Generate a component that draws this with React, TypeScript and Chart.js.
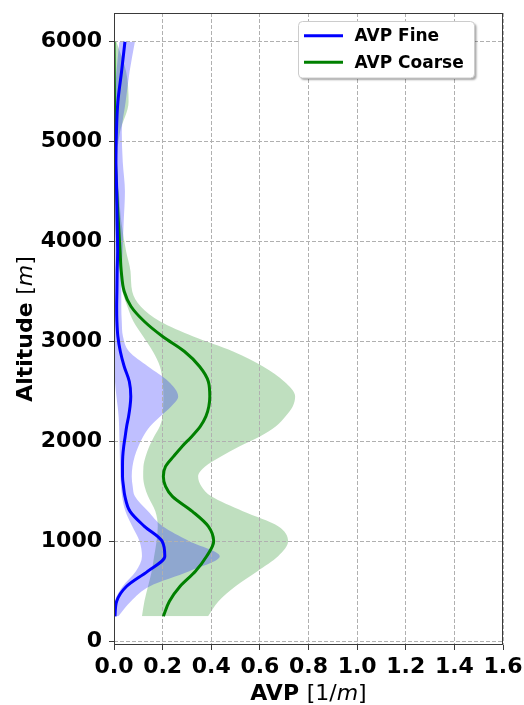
import React, { useEffect, useRef } from 'react';
import { Chart, registerables } from 'chart.js';

Chart.register(...registerables);

// Altitude levels [m]
const altitudes = [250, 400, 550, 700, 850, 1000, 1150, 1300, 1450, 1550, 1650, 1750, 1850, 1950, 2050, 2150, 2250, 2350, 2450, 2600, 2750, 2900, 3050, 3200, 3350, 3500, 3700, 3900, 4200, 4500, 4800, 5100, 5400, 5700, 6000];

// AVP Fine [1/m]
const fineMean = [0.004, 0.011, 0.052, 0.138, 0.209, 0.198, 0.125, 0.066, 0.045, 0.039, 0.035, 0.035, 0.036, 0.04, 0.046, 0.052, 0.06, 0.066, 0.069, 0.063, 0.042, 0.026, 0.016, 0.012, 0.011, 0.012, 0.013, 0.015, 0.013, 0.011, 0.008, 0.01, 0.016, 0.031, 0.045];
const fineLow = [0.0, 0.004, 0.036, 0.09, 0.115, 0.105, 0.075, 0.047, 0.033, 0.029, 0.026, 0.025, 0.024, 0.023, 0.022, 0.021, 0.019, 0.015, 0.01, 0.004, 0.0, 0.0, 0.0, 0.0, 0.0, 0.0, 0.0, 0.0, 0.0, 0.0, 0.0, 0.0, 0.002, 0.01, 0.022];
const fineHigh = [0.018, 0.07, 0.148, 0.31, 0.435, 0.31, 0.2, 0.14, 0.086, 0.077, 0.073, 0.076, 0.085, 0.1, 0.12, 0.148, 0.19, 0.235, 0.264, 0.224, 0.14, 0.062, 0.037, 0.032, 0.03, 0.03, 0.032, 0.035, 0.04, 0.045, 0.036, 0.032, 0.048, 0.064, 0.086];

// AVP Coarse [1/m]
const coarseMean = [0.203, 0.228, 0.272, 0.335, 0.381, 0.41, 0.388, 0.322, 0.24, 0.212, 0.203, 0.212, 0.245, 0.28, 0.32, 0.355, 0.378, 0.39, 0.394, 0.388, 0.352, 0.29, 0.2, 0.125, 0.07, 0.042, 0.03, 0.025, 0.018, 0.011, 0.006, 0.004, 0.002, 0.001, 0.0];
const coarseLow = [0.115, 0.125, 0.14, 0.155, 0.165, 0.175, 0.18, 0.17, 0.14, 0.126, 0.12, 0.121, 0.13, 0.145, 0.165, 0.188, 0.2, 0.202, 0.203, 0.2, 0.189, 0.16, 0.12, 0.08, 0.055, 0.035, 0.025, 0.012, 0.005, 0.0, 0.0, 0.0, 0.0, 0.0, 0.0];
const coarseHigh = [0.387, 0.43, 0.5, 0.59, 0.675, 0.716, 0.675, 0.53, 0.4, 0.36, 0.346, 0.375, 0.44, 0.515, 0.6, 0.665, 0.705, 0.735, 0.745, 0.7, 0.613, 0.49, 0.326, 0.19, 0.11, 0.075, 0.068, 0.05, 0.03, 0.02, 0.012, 0.025, 0.06, 0.05, 0.01];

const xTicks = [0, 0.2, 0.4, 0.6, 0.8, 1.0, 1.2, 1.4, 1.6];
const yTicks = [0, 1000, 2000, 3000, 4000, 5000, 6000];
const seriesLabels = ['AVP Fine', 'AVP Coarse'];
const seriesColors = ['#0000ff', '#008000'];
const bandColors = ['rgba(0,0,255,0.25)', 'rgba(0,128,0,0.25)'];

const FONT = '"DejaVu Sans", Verdana, sans-serif';

const linePoints = (vals: number[]) => altitudes.map((a, i) => ({ x: vals[i], y: a }));

type Part = { t: string; f: string };
const xTitle: Part[] = [
  { t: 'AVP ', f: `bold 22px ${FONT}` },
  { t: '[1/', f: `22px ${FONT}` },
  { t: 'm', f: `italic 22px ${FONT}` },
  { t: ']', f: `22px ${FONT}` },
];
const yTitle: Part[] = [
  { t: 'Altitude ', f: `bold 22px ${FONT}` },
  { t: '[', f: `22px ${FONT}` },
  { t: 'm', f: `italic 22px ${FONT}` },
  { t: ']', f: `22px ${FONT}` },
];

function drawParts(ctx: CanvasRenderingContext2D, parts: Part[], cx: number, baseline: number) {
  let total = 0;
  const widths = parts.map((p) => {
    ctx.font = p.f;
    const w = ctx.measureText(p.t).width;
    total += w;
    return w;
  });
  let x = cx - total / 2;
  ctx.textBaseline = 'alphabetic';
  ctx.textAlign = 'left';
  parts.forEach((p, i) => {
    ctx.font = p.f;
    ctx.fillText(p.t, x, baseline);
    x += widths[i];
  });
}

// compute the spline control points along the vertical (altitude) axis before any fill is drawn
const controlPointsPlugin = {
  id: 'verticalControlPoints',
  afterUpdate(chart: any) {
    chart.getSortedVisibleDatasetMetas().forEach((meta: any) => {
      if (meta.dataset && meta.dataset.updateControlPoints) {
        meta.dataset.updateControlPoints(chart.chartArea, 'y');
      }
    });
  },
};

const decorPlugin = {
  id: 'decor',
  afterDatasetsDraw(chart: any) {
    const { ctx, chartArea: a } = chart;
    ctx.save();
    ctx.strokeStyle = '#3a3a3a';
    ctx.lineWidth = 1;
    const l = Math.round(a.left) + 0.5;
    const r = Math.round(a.right) - 0.5;
    const t = Math.round(a.top) + 0.5;
    const b = Math.round(a.bottom) - 0.5;
    ctx.strokeRect(l, t, r - l, b - t);
    ctx.restore();
  },
  afterDraw(chart: any) {
    const { ctx, chartArea: a } = chart;
    ctx.save();
    ctx.fillStyle = '#000';
    drawParts(ctx, xTitle, (a.left + a.right) / 2, 700);
    ctx.translate(31.5, (a.top + a.bottom) / 2);
    ctx.rotate(-Math.PI / 2);
    drawParts(ctx, yTitle, 0, 0);
    ctx.restore();

    // Legend
    ctx.save();
    const bx = 298.5, by = 21.5, bw = 176, bh = 56.5, rad = 4;
    ctx.beginPath();
    ctx.moveTo(bx + rad, by);
    ctx.lineTo(bx + bw - rad, by);
    ctx.quadraticCurveTo(bx + bw, by, bx + bw, by + rad);
    ctx.lineTo(bx + bw, by + bh - rad);
    ctx.quadraticCurveTo(bx + bw, by + bh, bx + bw - rad, by + bh);
    ctx.lineTo(bx + rad, by + bh);
    ctx.quadraticCurveTo(bx, by + bh, bx, by + bh - rad);
    ctx.lineTo(bx, by + rad);
    ctx.quadraticCurveTo(bx, by, bx + rad, by);
    ctx.closePath();
    ctx.shadowColor = 'rgba(0,0,0,0.35)';
    ctx.shadowOffsetX = 2;
    ctx.shadowOffsetY = 2;
    ctx.shadowBlur = 2;
    ctx.fillStyle = '#ffffff';
    ctx.fill();
    ctx.shadowColor = 'transparent';
    ctx.strokeStyle = '#cccccc';
    ctx.lineWidth = 1;
    ctx.stroke();
    const rows = [35.7, 62.3];
    seriesLabels.forEach((lab, i) => {
      ctx.strokeStyle = seriesColors[i];
      ctx.lineWidth = 3;
      ctx.beginPath();
      ctx.moveTo(304, rows[i]);
      ctx.lineTo(343, rows[i]);
      ctx.stroke();
      ctx.fillStyle = '#000';
      ctx.font = `bold 17px ${FONT}`;
      ctx.textBaseline = 'middle';
      ctx.textAlign = 'left';
      ctx.fillText(lab, 354.5, rows[i] + 1);
    });
    ctx.restore();
  },
};

const edgeStyle = {
  borderWidth: 0,
  borderColor: 'transparent',
  pointRadius: 0,
  cubicInterpolationMode: 'monotone' as const,
};

export default function App() {
  const ref = useRef<HTMLCanvasElement | null>(null);
  useEffect(() => {
    if (!ref.current) return;
    const tickFont = { family: FONT, size: 22, weight: 'bold' as const };
    const chart = new Chart(ref.current, {
      type: 'line',
      data: {
        datasets: [
          {
            label: seriesLabels[0],
            data: linePoints(fineMean),
            borderColor: seriesColors[0],
            borderWidth: 3,
            pointRadius: 0,
            cubicInterpolationMode: 'monotone',
            fill: false,
          },
          {
            label: seriesLabels[1],
            data: linePoints(coarseMean),
            borderColor: seriesColors[1],
            borderWidth: 3,
            pointRadius: 0,
            cubicInterpolationMode: 'monotone',
            fill: false,
          },
          { label: 'Fine low', data: linePoints(fineLow), ...edgeStyle, fill: false },
          { label: 'Fine high', data: linePoints(fineHigh), ...edgeStyle, backgroundColor: bandColors[0], fill: '-1' },
          { label: 'Coarse low', data: linePoints(coarseLow), ...edgeStyle, fill: false },
          { label: 'Coarse high', data: linePoints(coarseHigh), ...edgeStyle, backgroundColor: bandColors[1], fill: '-1' },
        ],
      },
      options: {
        indexAxis: 'y',
        animation: false,
        responsive: false,
        devicePixelRatio: 1,
        layout: { padding: { top: 13, right: 21, left: 0, bottom: 0 } },
        plugins: {
          legend: { display: false },
          tooltip: { enabled: false },
          filler: { drawTime: 'beforeDraw' },
        },
        scales: {
          x: {
            type: 'linear',
            position: 'bottom',
            min: 0,
            max: 1.6,
            afterFit: (s: any) => { s.height = 60; s.paddingLeft = 0; s.paddingRight = 0; },
            afterBuildTicks: (s: any) => { s.ticks = xTicks.map((v) => ({ value: v })); },
            ticks: {
              font: tickFont,
              color: '#000',
              padding: 4,
              maxRotation: 0,
              autoSkip: false,
              callback: (v: any) => Number(v).toFixed(1),
            },
            grid: { color: '#b0b0b0', tickColor: '#3a3a3a', tickLength: 5, lineWidth: 1 },
            border: { display: false, dash: [4, 2] },
          },
          y: {
            type: 'linear',
            position: 'left',
            min: -37.5,
            max: 6287.5,
            afterFit: (s: any) => { s.width = 114; s.paddingTop = 0; s.paddingBottom = 0; },
            afterBuildTicks: (s: any) => { s.ticks = yTicks.map((v) => ({ value: v })); },
            ticks: {
              font: tickFont,
              color: '#000',
              padding: 7,
              autoSkip: false,
              callback: (v: any) => String(v),
            },
            grid: { color: '#b0b0b0', tickColor: '#3a3a3a', tickLength: 5, lineWidth: 1 },
            border: { display: false, dash: [4, 2] },
          },
        },
      },
      plugins: [controlPointsPlugin, decorPlugin],
    } as any);
    return () => chart.destroy();
  }, []);
  return (
    <div style={{ position: 'absolute', left: 0, top: 0, width: 524, height: 705, background: '#fff' }}>
      <canvas ref={ref} width={524} height={705} style={{ width: 524, height: 705, display: 'block' }} />
    </div>
  );
}
